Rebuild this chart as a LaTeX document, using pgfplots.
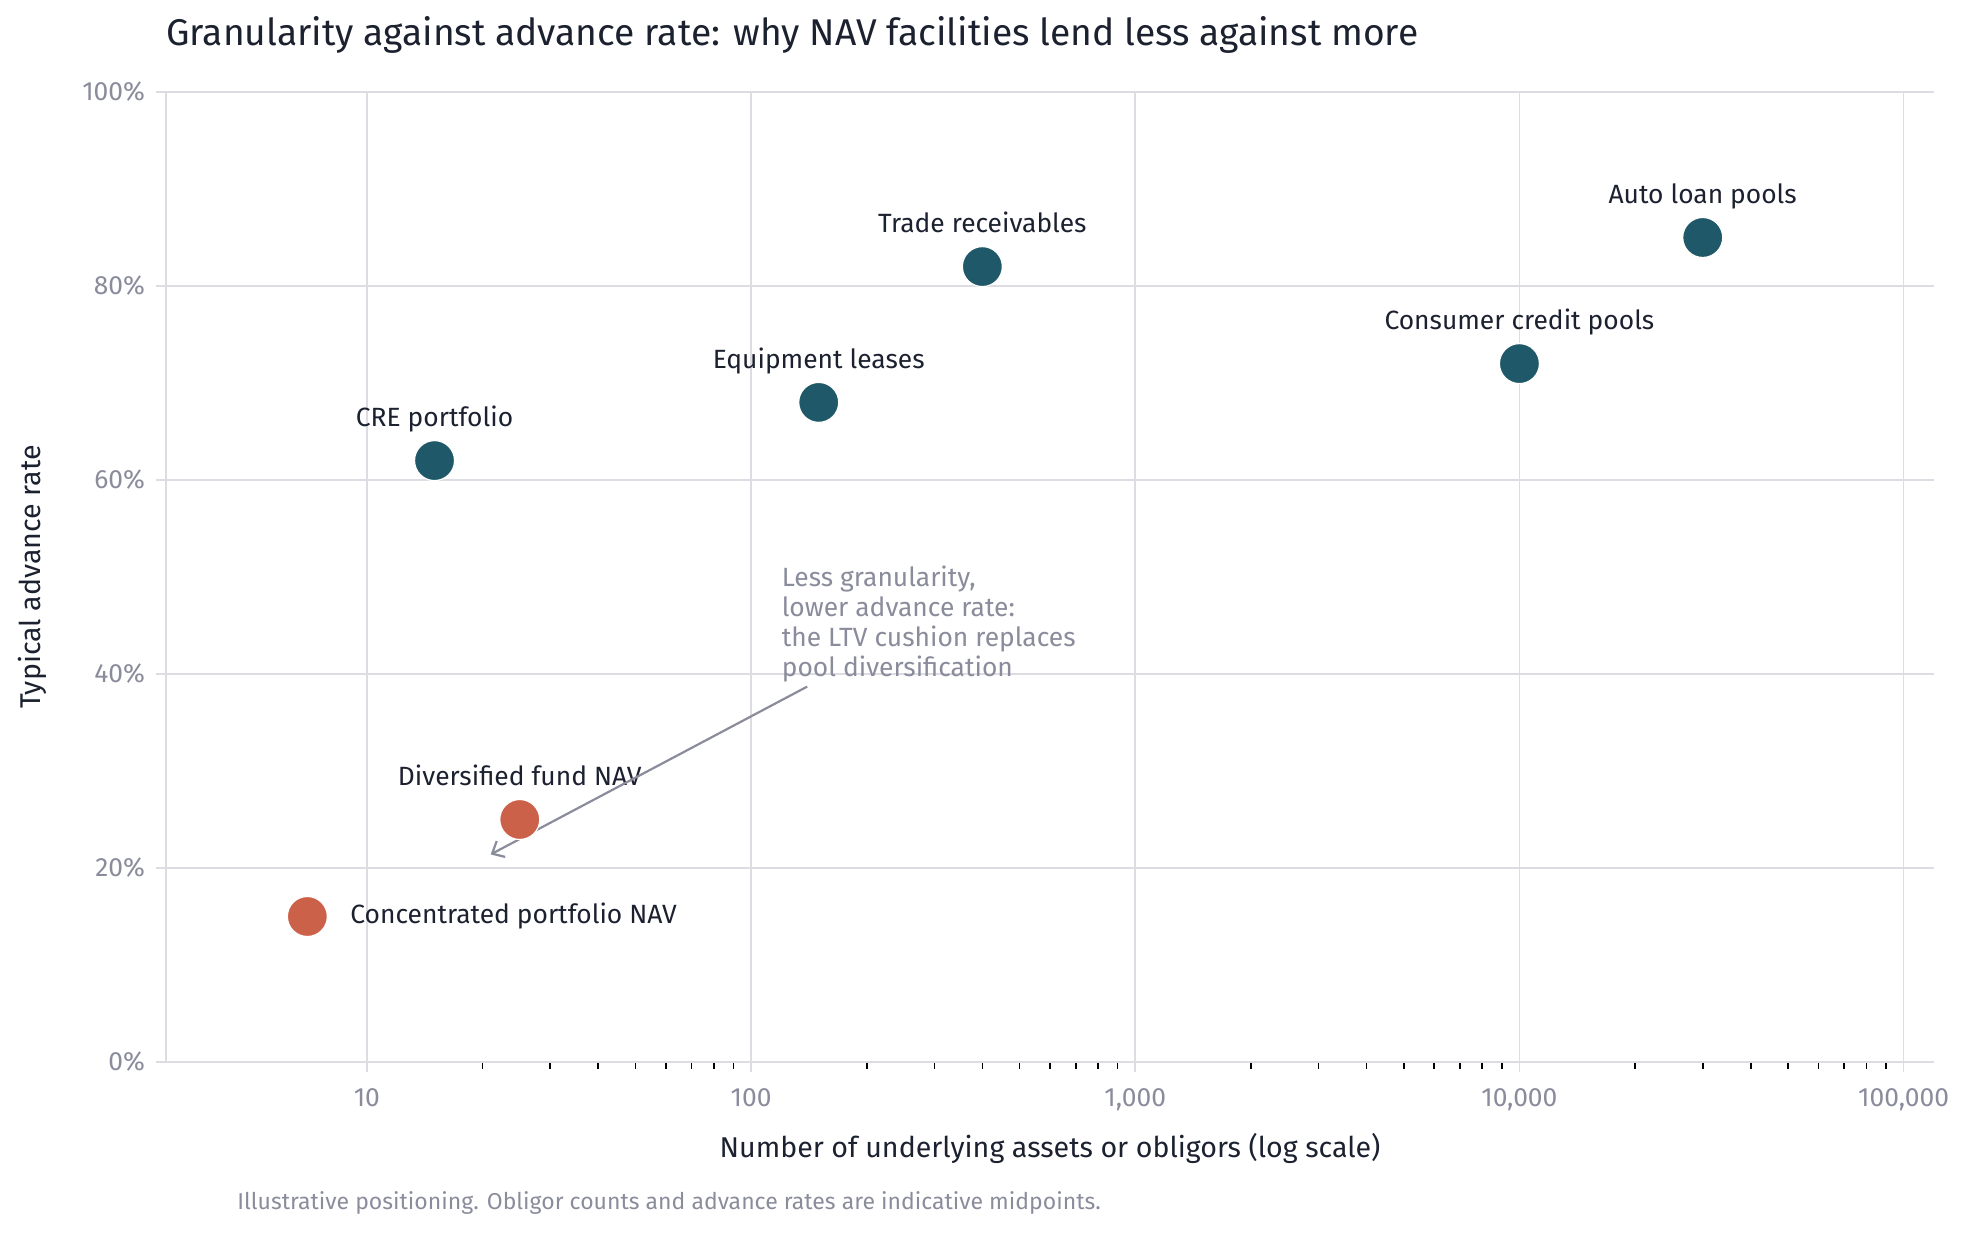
\documentclass[border=0pt]{standalone}
\usepackage{pgfplots}
\pgfplotsset{compat=1.18}
\usepackage{fontspec}
\setmainfont{Fira Sans}
\usetikzlibrary{arrows.meta}
\definecolor{ink}{HTML}{1C2130}
\definecolor{muted}{HTML}{8A8C9C}
\definecolor{gridc}{HTML}{DCDCE2}
\definecolor{teal}{HTML}{1F5868}
\definecolor{rust}{HTML}{CC614A}
\pgfplotstableread{
x y
15 62
150 68
400 82
10000 72
30000 85
}\credit
\pgfplotstableread{
x y
25 25
7 15
}\nav
\begin{document}
\begin{tikzpicture}
\path[use as bounding box] (-83pt,-87pt) rectangle (905pt,531pt);
\begin{axis}[
  at={(0,0)}, anchor=south west,
  scale only axis, width=884pt, height=485pt,
  xmode=log, xmin=3, xmax=120000,
  ymin=0, ymax=100,
  axis x line=bottom, axis y line=left,
  axis line style={gridc, line width=1.2pt, -},
  xtick={10,100,1000,10000,100000},
  xticklabels={10,100,{1,000},{10,000},{100,000}},
  ytick={0,20,40,60,80,100},
  yticklabels={0\%,20\%,40\%,60\%,80\%,100\%},
  grid=major,
  major grid style={gridc, line width=0.8pt},
  minor grid style={draw=none},
  tick align=outside,
  major tick length=5pt,
  minor tick length=3.5pt,
  major tick style={gridc, line width=0.8pt},
  minor tick style={black, line width=0.8pt},
  ticklabel style={font=\fontsize{13.2}{15}\selectfont, text=muted},
  /pgf/number format/assume math mode=true,
  xticklabel style={yshift=-5pt},
  yticklabel style={xshift=-2pt},
  xlabel={Number of underlying assets or obligors (log scale)},
  ylabel={Typical advance rate},
  label style={font=\fontsize{14.3}{16}\selectfont, text=ink},
  xlabel style={yshift=-4pt},
  ylabel style={at={(axis description cs:-0.0758,0.5)}, anchor=center},
  clip=false,
]
\addplot[only marks, mark=*, mark size=10pt, mark options={fill=teal, draw=white, line width=0.6pt}] table[x=x,y=y]{\credit};
\addplot[only marks, mark=*, mark size=10pt, mark options={fill=rust, draw=white, line width=0.6pt}] table[x=x,y=y]{\nav};
\begin{scope}[every node/.style={font=\fontsize{13.2}{15}\selectfont, text=ink}]
\node[anchor=base] at (axis cs:15,62) [yshift=17pt] {CRE portfolio};
\node[anchor=base] at (axis cs:150,68) [yshift=17pt] {Equipment leases};
\node[anchor=base] at (axis cs:400,82) [yshift=17pt] {Trade receivables};
\node[anchor=base] at (axis cs:10000,72) [yshift=17pt] {Consumer credit pools};
\node[anchor=base] at (axis cs:30000,85) [yshift=17pt] {Auto loan pools};
\node[anchor=base] at (axis cs:25,25) [yshift=17pt] {Diversified fund NAV};
\node[anchor=west] at (axis cs:7,15) [xshift=18pt] {Concentrated portfolio NAV};
\end{scope}
\draw[muted, line width=1.1pt, -{Straight Barb[length=5pt,width=9pt]}] (axis cs:140,38.7) -- (axis cs:21,21.4);
\node[anchor=north west, align=left, text=muted, font=\fontsize{13.2}{15}\selectfont, inner sep=0pt] at (axis cs:120,51.2) {Less granularity,\\lower advance rate:\\the LTV cushion replaces\\pool diversification};
\end{axis}
\node[anchor=base west, text=ink, font=\fontsize{18.6}{22}\selectfont, inner sep=0pt] at (0pt,508pt) {Granularity against advance rate: why NAV facilities lend less against more};
\node[anchor=base west, text=muted, font=\fontsize{11.5}{13}\selectfont, inner sep=0pt] at (35.5pt,-74pt) {Illustrative positioning. Obligor counts and advance rates are indicative midpoints.};
\end{tikzpicture}
\end{document}
